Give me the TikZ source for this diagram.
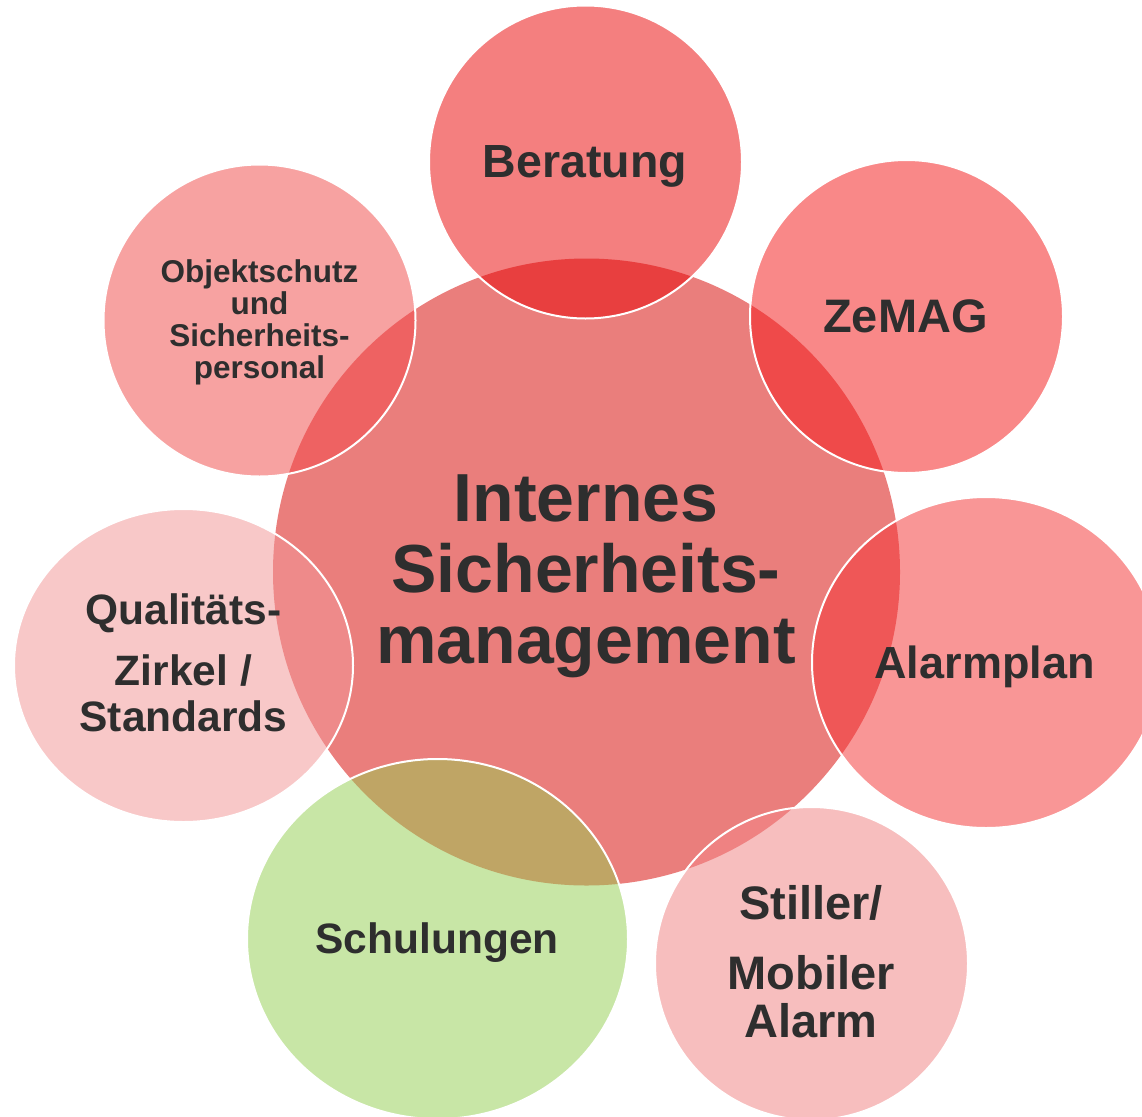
\documentclass[tikz,border=0pt]{standalone}
\usepackage{fontspec}
\setmainfont{Liberation Sans}
\usetikzlibrary{positioning}

\definecolor{txt}{HTML}{2E2E2E}
\definecolor{core}{HTML}{EA7E7C}
\definecolor{berC}{HTML}{F47F7F}
\definecolor{berO}{HTML}{E83F3F}
\definecolor{zemC}{HTML}{F98888}
\definecolor{zemO}{HTML}{EF4A4A}
\definecolor{alaC}{HTML}{F99696}
\definecolor{alaO}{HTML}{EF5757}
\definecolor{stiC}{HTML}{F7BEBE}
\definecolor{stiO}{HTML}{EF8282}
\definecolor{schC}{HTML}{C8E6A6}
\definecolor{schO}{HTML}{BFA565}
\definecolor{quaC}{HTML}{F8C8C8}
\definecolor{quaO}{HTML}{EE8A8A}
\definecolor{objC}{HTML}{F7A2A1}
\definecolor{objO}{HTML}{EE6262}

\tikzset{
  rim/.style={draw=white, line width=2pt},
  lbl/.style n args={2}{anchor=base, align=center, text=txt, inner sep=0pt,
    font=\fontsize{#1}{#2}\selectfont\bfseries}
}

\begin{document}
\begin{tikzpicture}[x=1pt,y=-1pt]
	\clip (0,0) rectangle (1142,1116);
	% centres
	\coordinate (ism) at (586.5,572);
	\coordinate (ber) at (585.5,162);
	\coordinate (zem) at (906.5,316.5);
	\coordinate (ala) at (986,662.5);
	\coordinate (sti) at (811.5,963.5);
	\coordinate (sch) at (437.5,939);
	\coordinate (qua) at (183.5,665.5);
	\coordinate (obj) at (259.5,320.5);
	% main circle
	\fill[core] (ism) circle (313.5);
	% satellites
	\fill[berC] (ber) circle (156.5);
	\fill[zemC] (zem) circle (156.5);
	\fill[alaC] (ala) ellipse [x radius=174, y radius=165.5];
	\fill[stiC] (sti) circle (156.5);
	\fill[schC] (sch) ellipse [x radius=190.5, y radius=180];
	\fill[quaC] (qua) ellipse [x radius=169.5, y radius=156.5];
	\fill[objC] (obj) circle (156);
	% overlaps with the main circle
	\begin{scope}
		\clip (ism) circle (313.5);
		\fill[berO] (ber) circle (156.5);
		\fill[zemO] (zem) circle (156.5);
		\fill[alaO] (ala) ellipse [x radius=174, y radius=165.5];
		\fill[stiO] (sti) circle (156.5);
		\fill[schO] (sch) ellipse [x radius=190.5, y radius=180];
		\fill[quaO] (qua) ellipse [x radius=169.5, y radius=156.5];
		\fill[objO] (obj) circle (156);
	\end{scope}
	% white rims
	\draw[rim] (ber) circle (156.5);
	\draw[rim] (zem) circle (156.5);
	\draw[rim] (ala) ellipse [x radius=174, y radius=165.5];
	\draw[rim] (sti) circle (156.5);
	\draw[rim] (sch) ellipse [x radius=190.5, y radius=180];
	\draw[rim] (qua) ellipse [x radius=169.5, y radius=156.5];
	\draw[rim] (obj) circle (156);
	% labels (base = last line)
	\node[lbl={68}{71}] (tIsm) at (586,663) {Internes\\Sicherheits-\\management};
	\node[lbl={46.5}{50}] (tBer) at (585,177) {Beratung};
	\node[lbl={47}{50}] (tZem) at (905.5,332) {ZeMAG};
	\node[lbl={45}{50}] (tAla) at (984.5,678) {Alarmplan};
	\node[lbl={42.5}{46}] (tSch) at (437,953) {Schulungen};
	\node[lbl={42.5}{46}] (tQua) at (183.5,731) {Qualitäts-\\[15pt]Zirkel /\\Standards};
	\node[lbl={47}{48}] (tSti) at (811,1037) {Stiller/\\[22pt]Mobiler\\Alarm};
	\node[lbl={31.5}{32}] (tObj) at (259.5,378) {Objektschutz\\und\\Sicherheits-\\personal};
\end{tikzpicture}
\end{document}
